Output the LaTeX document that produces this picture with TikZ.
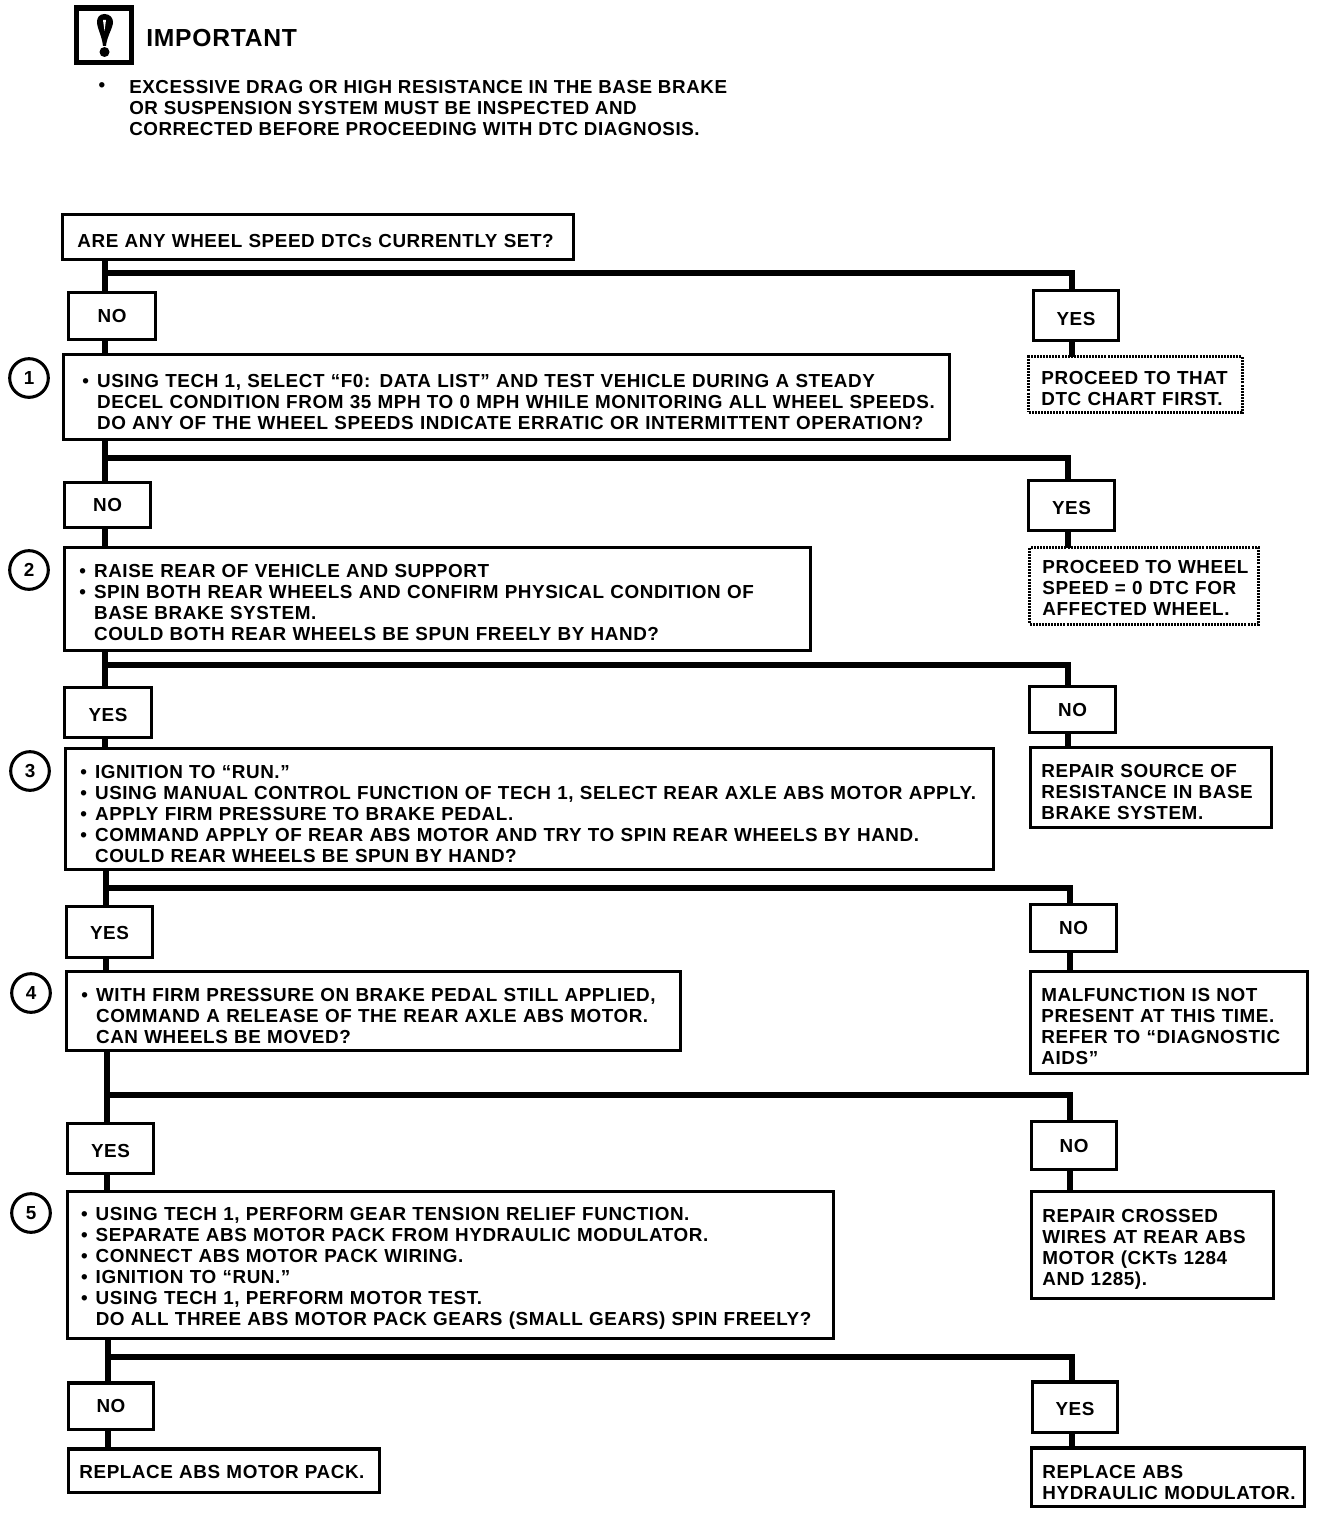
\documentclass[tikz,border=0pt]{standalone}
\usepackage{fontspec}
\setmainfont{Liberation Sans}[Ligatures=TeX, LetterSpace=3]
\newcommand{\itemdot}{\makebox[11pt][l]{\textbullet}}
\newcommand{\itemgap}{\hspace*{11pt}}
\begin{document}
\begin{tikzpicture}[x=0.75pt, y=-0.75pt, font=\fontsize{14.15}{15.75}\selectfont\bfseries,
      corners/.style n args={5}{anchor=north west, at={(#1+1.75,#2+1.75)},
                  minimum width={(#3-#1-3.5)*0.75pt}, minimum height={(#4-#2-3.5)*0.75pt},
                  text width={(#3-#1-3.5)*0.75pt-2*\pgfkeysvalueof{/pgf/inner xsep}},
                  execute at begin node={\rule{0pt}{\dimexpr 10pt+#5pt*3/2\relax}}},
      flowbox/.style={draw, line width=2.6pt, outer sep=0pt, inner ysep=0pt, inner xsep=11pt, align=left},
      sidebox/.style={flowbox, inner xsep=8pt},
      dotbox/.style={flowbox, inner xsep=9.5pt, line width=2pt, dash pattern=on 1.5pt off 0.8pt},
      answer/.style={flowbox, inner xsep=0pt, align=center},
      stepnum/.style={draw, circle, line width=2.3pt, minimum size=29pt, inner sep=0pt},
      bus/.style={line width=5.2pt}]
    \useasboundingbox (0,0) rectangle (1344,1516);
    % warning block
    \node[draw, line width=4pt, outer sep=0pt, minimum width=41pt, minimum height=41pt] (warnbox) at (104,35.5) {};
    \fill (104.5,14) .. controls (110,14) and (113,18) .. (113,22) .. controls (113,28) and (107,36) .. (106,46)
       -- (103,46) .. controls (102,36) and (97,28) .. (97,22) .. controls (97,18) and (99,14) .. (104.5,14) -- cycle;
    \fill[white] (103,20) -- (106,20) -- (104.5,31) -- cycle;
    \fill (104.5,52) circle (5);
    \node[anchor=west, inner sep=0pt, font=\fontsize{18.5}{22}\selectfont\bfseries] (imptitle) at (146,38) {IMPORTANT};
    \node[inner sep=0pt] (impdot) at (102,87) {\textbullet};
    \node[anchor=west, inner sep=0pt, align=left, font=\fontsize{14.1}{15.75}\selectfont\bfseries] (imptext) at (129,108) {EXCESSIVE DRAG OR HIGH RESISTANCE IN THE BASE BRAKE\\
      OR SUSPENSION SYSTEM MUST BE INSPECTED AND\\
      CORRECTED BEFORE PROCEEDING WITH DTC DIAGNOSIS.};
    % questions
    \node[flowbox, corners={61}{213}{575}{261}{4}] (q0) {ARE ANY WHEEL SPEED DTCs CURRENTLY SET?};
    \node[flowbox, inner xsep=14pt, corners={62}{353}{951}{441}{5}] (q1) {\itemdot USING TECH 1, SELECT “F0: DATA LIST” AND TEST VEHICLE DURING A STEADY\\
      \itemgap \mbox{DECEL CONDITION FROM 35 MPH TO 0 MPH WHILE MONITORING ALL WHEEL SPEEDS.}\\
      \itemgap \mbox{DO ANY OF THE WHEEL SPEEDS INDICATE ERRATIC OR INTERMITTENT OPERATION?}};
    \node[flowbox, corners={63}{546}{812}{652}{3.5}] (q2) {\itemdot RAISE REAR OF VEHICLE AND SUPPORT\\
      \itemdot SPIN BOTH REAR WHEELS AND CONFIRM PHYSICAL CONDITION OF\\
      \itemgap BASE BRAKE SYSTEM.\\
      \itemgap COULD BOTH REAR WHEELS BE SPUN FREELY BY HAND?};
    \node[flowbox, corners={64}{747}{995}{871}{4.5}] (q3) {\itemdot IGNITION TO “RUN.”\\
      \itemdot \mbox{USING MANUAL CONTROL FUNCTION OF TECH 1, SELECT REAR AXLE ABS MOTOR APPLY.}\\
      \itemdot APPLY FIRM PRESSURE TO BRAKE PEDAL.\\
      \itemdot COMMAND APPLY OF REAR ABS MOTOR AND TRY TO SPIN REAR WHEELS BY HAND.\\
      \itemgap COULD REAR WHEELS BE SPUN BY HAND?};
    \node[flowbox, corners={65}{970}{682}{1052}{5}] (q4) {\itemdot WITH FIRM PRESSURE ON BRAKE PEDAL STILL APPLIED,\\
      \itemgap COMMAND A RELEASE OF THE REAR AXLE ABS MOTOR.\\
      \itemgap CAN WHEELS BE MOVED?};
    \node[flowbox, inner xsep=10pt, corners={66}{1190}{835}{1340}{3}] (q5) {\itemdot USING TECH 1, PERFORM GEAR TENSION RELIEF FUNCTION.\\
      \itemdot SEPARATE ABS MOTOR PACK FROM HYDRAULIC MODULATOR.\\
      \itemdot CONNECT ABS MOTOR PACK WIRING.\\
      \itemdot IGNITION TO “RUN.”\\
      \itemdot USING TECH 1, PERFORM MOTOR TEST.\\
      \itemgap DO ALL THREE ABS MOTOR PACK GEARS (SMALL GEARS) SPIN FREELY?};
    \node[flowbox, inner xsep=8pt, corners={67}{1447}{381}{1494}{1.5}] (q6) {REPLACE ABS MOTOR PACK.};
    % answers
    \node[answer, corners={67}{291}{157}{341}{0}] (la0) {NO};
    \node[answer, corners={1032}{289}{1120}{342}{3}] (ra0) {YES};
    \node[answer, corners={63}{481}{152}{529}{0}] (la1) {NO};
    \node[answer, corners={1027}{479}{1116}{532}{2.5}] (ra1) {YES};
    \node[answer, corners={63}{686}{153}{739}{2.5}] (la2) {YES};
    \node[answer, corners={1028}{685}{1117}{734}{0}] (ra2) {NO};
    \node[answer, corners={65}{905}{154}{959}{1}] (la3) {YES};
    \node[answer, corners={1029}{903}{1118}{953}{0}] (ra3) {NO};
    \node[answer, corners={66}{1122}{155}{1175}{2.5}] (la4) {YES};
    \node[answer, corners={1030}{1120}{1118}{1171}{0}] (ra4) {NO};
    \node[answer, corners={67}{1381}{155}{1431}{0}] (la5) {NO};
    \node[answer, corners={1031}{1380}{1119}{1434}{2}] (ra5) {YES};
    % results
    \node[dotbox, corners={1027}{355}{1244}{414}{4}] (res0) {\mbox{PROCEED TO THAT}\\DTC CHART FIRST.};
    \node[dotbox, corners={1028}{546}{1260}{626}{2}] (res1) {\mbox{PROCEED TO WHEEL}\\SPEED = 0 DTC FOR\\AFFECTED WHEEL.};
    \node[sidebox, corners={1029}{746}{1273}{829}{4.5}] (res2) {REPAIR SOURCE OF\\RESISTANCE IN BASE\\BRAKE SYSTEM.};
    \node[sidebox, corners={1029}{970}{1309}{1075}{3.5}] (res3) {MALFUNCTION IS NOT\\PRESENT AT THIS TIME.\\REFER TO “DIAGNOSTIC\\AIDS”};
    \node[sidebox, corners={1030}{1190}{1275}{1300}{4}] (res4) {REPAIR CROSSED\\WIRES AT REAR ABS\\MOTOR (CKTs 1284\\AND 1285).};
    \node[sidebox, corners={1030}{1446}{1306}{1508}{5}] (res5) {REPLACE ABS\\\mbox{HYDRAULIC MODULATOR.}};
    % step numbers
    \node[stepnum] (num1) at (29,378) {1};
    \node[stepnum] (num2) at (29,570) {2};
    \node[stepnum] (num3) at (30,771) {3};
    \node[stepnum] (num4) at (31,993) {4};
    \node[stepnum] (num5) at (31,1213) {5};
    % connectors
    \foreach \i/\j/\tx/\by/\rx in {0/1/105/273/1072, 1/2/105/458/1068, 2/3/105/665/1068,
                                   3/4/106/888/1070, 4/5/107/1095/1070, 5/6/108/1357/1072} {
      \coordinate (bl\i) at (\tx,\by);
      \coordinate (br\i) at (\rx,\by);
      \draw[bus] (q\i.south -| bl\i) -- (la\i.north -| bl\i);
      \draw[bus] (bl\i) -- (br\i) -- (ra\i.north -| br\i);
      \draw[bus] (la\i.south -| bl\i) -- (q\j.north -| bl\i);
      \draw[bus] (ra\i.south -| br\i) -- (res\i.north -| br\i);
    }
\end{tikzpicture}
\end{document}
